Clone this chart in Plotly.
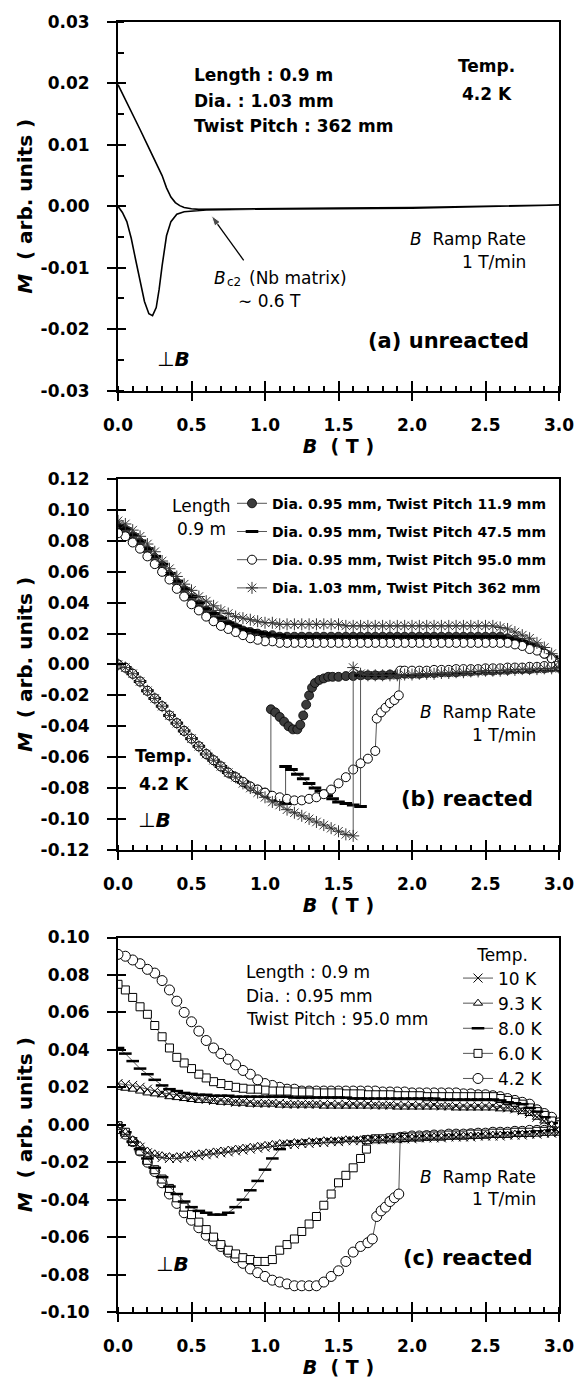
import plotly.graph_objects as go

# ---------------- data ----------------
B_GRID = [round(0.05 * i, 2) for i in range(61)]

# Panel (a) unreacted
A_B_UP = [0.0, 0.05, 0.10, 0.15, 0.20, 0.25, 0.30, 0.33, 0.36, 0.39, 0.42, 0.45, 0.50, 0.55, 0.7, 1.0, 1.5, 2.0, 2.5, 3.0]
A_M_UP = [0.0198, 0.0173, 0.0150, 0.0125, 0.0100, 0.0076, 0.0050, 0.0030, 0.0015, 0.0006, 0.0001, -0.0002,
          -0.0004, -0.0005, -0.0005, -0.0004, -0.0003, -0.0002, 0.0000, 0.0002]
A_B_LO = [0.0, 0.03, 0.06, 0.09, 0.12, 0.15, 0.18, 0.21, 0.235, 0.26, 0.28, 0.30, 0.33, 0.36, 0.40, 0.45,
          0.50, 0.60, 0.80, 1.0, 1.5, 2.0, 2.5, 3.0]
A_M_LO = [0.0, -0.0010, -0.0025, -0.0052, -0.0087, -0.0122, -0.0155, -0.0175, -0.0178, -0.0165, -0.0135,
          -0.0097, -0.0048, -0.0025, -0.0013, -0.0009, -0.0008, -0.0006, -0.0005, -0.0005, -0.0004,
          -0.0003, -0.0001, 0.0002]
# arrow pointing at Bc2 (tail -> head)
ARROW_B = [0.855, 0.635]
ARROW_M = [-0.0088, -0.0015]

# Panel (b) reacted, 4.2 K (upper branches on B_GRID)
B_NAMES = ["Dia. 0.95 mm, Twist Pitch 11.9 mm", "Dia. 0.95 mm, Twist Pitch 47.5 mm",
           "Dia. 0.95 mm, Twist Pitch 95.0 mm", "Dia. 1.03 mm, Twist Pitch 362 mm"]
M119_UP = [.089, .087, .083, .079, .074, .069, .064, .058, .053, .048,
           .043, .039, .035, .032, .029, .026, .024, .022, .021, .020,
           .019, .019, .018, .018, .018, .018, .018, .018, .018, .018,
           .018, .018, .018, .018, .018, .018, .018, .018, .018, .018,
           .018, .018, .018, .018, .018, .018, .018, .018, .018, .018,
           .018, .018, .018, .017, .016, .014, .012, .010, .007, .004,
           .001]
M475_UP = [.090, .088, .084, .080, .075, .070, .065, .059, .054, .049,
           .044, .040, .036, .033, .030, .027, .025, .023, .022, .021,
           .020, .019, .019, .018, .018, .018, .018, .018, .018, .018,
           .018, .018, .018, .018, .018, .018, .018, .018, .018, .018,
           .018, .018, .018, .018, .018, .018, .018, .018, .018, .018,
           .018, .018, .018, .017, .016, .015, .013, .011, .008, .005,
           .002]
M950_UP = [.085, .083, .079, .075, .070, .065, .060, .055, .049, .044,
           .039, .035, .031, .028, .025, .023, .021, .019, .017, .016,
           .015, .015, .014, .014, .014, .014, .014, .014, .014, .014,
           .014, .014, .014, .014, .014, .014, .014, .014, .014, .014,
           .014, .014, .014, .014, .014, .014, .014, .014, .014, .014,
           .014, .014, .014, .014, .013, .012, .010, .009, .007, .004,
           .001]
M362_UP = [.093, .091, .087, .083, .078, .073, .067, .062, .057, .052,
           .048, .044, .041, .038, .035, .033, .031, .030, .029, .028,
           .027, .027, .026, .026, .026, .026, .026, .026, .026, .026,
           .026, .025, .025, .025, .025, .025, .025, .025, .025, .025,
           .025, .025, .025, .025, .025, .025, .025, .025, .025, .025,
           .025, .025, .024, .023, .021, .019, .017, .014, .011, .007,
           .002]

B119_LO = [0, .05, .10, .15, .20, .25, .30, .35, .40, .45, .50, .55, .60, .65, .70, .75, .80, .85, .90, .95, 1.00, 1.04,
           1.04, 1.07, 1.10, 1.13, 1.16, 1.19, 1.22, 1.24, 1.26, 1.28, 1.30, 1.32, 1.34, 1.37, 1.40, 1.43, 1.46, 1.50,
           1.55, 1.60, 1.65, 1.70, 1.75, 1.80, 1.85, 1.90, 1.95, 2.00, 2.05, 2.10, 2.15, 2.20, 2.25, 2.30, 2.35, 2.40,
           2.45, 2.50, 2.55, 2.60, 2.65, 2.70, 2.75, 2.80, 2.85, 2.90, 2.95, 3.00]
M119_LO = [0, -.002, -.006, -.011, -.017, -.022, -.027, -.033, -.038, -.043, -.048, -.053, -.058, -.062, -.066, -.070,
           -.073, -.076, -.079, -.081, -.083, -.085,
           -.029, -.031, -.034, -.037, -.040, -.042, -.042, -.039, -.033, -.026, -.020, -.015, -.012, -.010, -.009,
           -.008, -.008, -.008,
           -.0075, -.0075, -.007, -.007, -.007, -.007, -.0065, -.0065, -.006, -.006, -.006, -.0055, -.0055, -.005,
           -.005, -.005, -.0045, -.0045, -.004, -.004, -.004, -.0035, -.0035, -.003, -.003, -.003, -.0025, -.0025,
           -.002, -.002]

B475_LO = [0, .05, .10, .15, .20, .25, .30, .35, .40, .45, .50, .55, .60, .65, .70, .75, .80, .85, .90, .95, 1.00,
           1.05, 1.10, 1.14, 1.14, 1.18, 1.22, 1.26, 1.30, 1.34, 1.38, 1.42, 1.46, 1.50, 1.55, 1.60, 1.65, 1.65,
           1.70, 1.75, 1.80, 1.85, 1.90, 1.95, 2.00, 2.05, 2.10, 2.15, 2.20, 2.25, 2.30, 2.35, 2.40, 2.45, 2.50,
           2.55, 2.60, 2.65, 2.70, 2.75, 2.80, 2.85, 2.90, 2.95, 3.00]
M475_LO = [0, -.002, -.006, -.011, -.017, -.022, -.027, -.033, -.038, -.043, -.048, -.053, -.058, -.062, -.066, -.070,
           -.073, -.076, -.079, -.081, -.083,
           -.086, -.088, -.090, -.066, -.068, -.071, -.074, -.077, -.080, -.082, -.085, -.087, -.089, -.090, -.091,
           -.092, -.007,
           -.007, -.007, -.007, -.0065, -.0065, -.006, -.006, -.006, -.0055, -.0055, -.005, -.005, -.005, -.0045,
           -.0045, -.004, -.004, -.004, -.0035, -.0035, -.003, -.003, -.003, -.0025, -.0025, -.002, -.002]

B950_LO = [0, .05, .10, .15, .20, .25, .30, .35, .40, .45, .50, .55, .60, .65, .70, .75, .80, .85, .90, .95,
           1.00, 1.05, 1.10, 1.15, 1.20, 1.25, 1.30, 1.35, 1.40, 1.45, 1.50, 1.55, 1.60, 1.65, 1.70, 1.75,
           1.76, 1.79, 1.82, 1.85, 1.88, 1.91, 1.92, 1.95,
           2.00, 2.05, 2.10, 2.15, 2.20, 2.25, 2.30, 2.35, 2.40, 2.45, 2.50, 2.55, 2.60, 2.65, 2.70, 2.75, 2.80,
           2.85, 2.90, 2.95, 3.00]
M950_LO = [0, -.002, -.006, -.011, -.017, -.022, -.027, -.033, -.038, -.043, -.048, -.053, -.058, -.062, -.066,
           -.070, -.073, -.076, -.079, -.081,
           -.083, -.085, -.086, -.087, -.088, -.088, -.087, -.086, -.084, -.081, -.077, -.073, -.068, -.064, -.061,
           -.056,
           -.035, -.031, -.028, -.025, -.023, -.020, -.004, -.004,
           -.004, -.004, -.004, -.0035, -.0035, -.0035, -.003, -.003, -.003, -.003, -.0025, -.0025, -.0025, -.002,
           -.002, -.002, -.0015, -.0015, -.001, -.001, -.001]

B362_LO = [0, .05, .10, .15, .20, .25, .30, .35, .40, .45, .50, .55, .60, .65, .70, .75, .80, .85, .90, .95,
           1.00, 1.05, 1.10, 1.15, 1.20, 1.25, 1.30, 1.35, 1.40, 1.45, 1.50, 1.55, 1.60, 1.60,
           1.65, 1.70, 1.75, 1.80, 1.85, 1.90, 1.95, 2.00, 2.05, 2.10, 2.15, 2.20, 2.25, 2.30, 2.35, 2.40, 2.45,
           2.50, 2.55, 2.60, 2.65, 2.70, 2.75, 2.80, 2.85, 2.90, 2.95, 3.00]
M362_LO = [0, -.002, -.006, -.011, -.017, -.022, -.027, -.033, -.038, -.043, -.048, -.053, -.058, -.062, -.066,
           -.070, -.073, -.077, -.080, -.083,
           -.086, -.089, -.091, -.094, -.096, -.098, -.100, -.102, -.104, -.106, -.108, -.110, -.111, -.002,
           -.006, -.007, -.007, -.007, -.007, -.007, -.0065, -.0065, -.006, -.006, -.006, -.0055, -.0055, -.005,
           -.005, -.0045, -.0045, -.004, -.004, -.004, -.0035, -.0035, -.003, -.003, -.003, -.0025, -.0025, -.002]

# Panel (c) reacted, 0.95 mm / 95.0 mm, various temperatures
C_NAMES = ["10 K", "9.3 K", "8.0 K", "6.0 K", "4.2 K"]
M42_UP = [.091, .090, .088, .086, .083, .081, .077, .072, .066, .060,
          .055, .050, .045, .041, .038, .035, .032, .029, .027, .024,
          .022, .021, .020, .019, .019, .018, .018, .018, .018, .018,
          .018, .018, .018, .018, .018, .018, .0175, .0175, .0175, .0175,
          .017, .017, .017, .017, .017, .017, .017, .0165, .0165, .016,
          .016, .0155, .015, .014, .013, .012, .011, .008, .006, .004,
          .001]
M60_UP = [.075, .072, .068, .063, .059, .053, .047, .041, .036, .033,
          .030, .027, .025, .023, .022, .021, .020, .0195, .019, .019,
          .0185, .018, .018, .018, .0175, .0175, .0175, .017, .017, .017,
          .017, .0165, .0165, .0165, .016, .016, .016, .016, .0155, .0155,
          .0155, .0155, .015, .015, .015, .015, .015, .015, .015, .015,
          .015, .015, .014, .013, .012, .011, .009, .007, .005, .002,
          .000]
M80_UP = [.041, .038, .034, .030, .027, .024, .021, .019, .018, .017,
          .0165, .016, .016, .0155, .0155, .0155, .015, .015, .015, .015,
          .015, .015, .015, .015, .0145, .0145, .0145, .0145, .0145, .0145,
          .0145, .0145, .014, .014, .014, .014, .014, .014, .014, .014,
          .014, .014, .014, .014, .0135, .0135, .0135, .0135, .0135, .0135,
          .0135, .0135, .013, .012, .0115, .011, .009, .007, .004, .001,
          -.002]
M93_UP = [.020, .0195, .019, .018, .017, .0165, .016, .015, .0145, .014,
          .0135, .013, .013, .0125, .012, .012, .0115, .0115, .011, .011,
          .011, .011, .0105, .0105, .0105, .0105, .0105, .0105, .010, .010,
          .010, .010, .010, .010, .010, .010, .010, .010, .0095, .0095,
          .0095, .0095, .0095, .0095, .0095, .0095, .009, .009, .009, .009,
          .009, .009, .0085, .0085, .008, .007, .006, .004, .002, .000,
          -.003]
M10_UP = [.022, .0215, .021, .020, .019, .018, .017, .0165, .016, .015,
          .0145, .014, .0135, .013, .013, .0125, .012, .012, .012, .0115,
          .0115, .0115, .0115, .011, .011, .011, .011, .011, .011, .011,
          .011, .011, .011, .011, .011, .0105, .0105, .0105, .0105, .0105,
          .0105, .0105, .0105, .0105, .010, .010, .010, .010, .010, .010,
          .010, .010, .0095, .009, .0085, .0075, .006, .004, .002, -.001,
          -.004]

M10_LO = [-.001, -.005, -.009, -.012, -.015, -.0165, -.0175, -.018, -.018, -.0175,
          -.017, -.0165, -.016, -.0155, -.015, -.0145, -.014, -.0135, -.013, -.0125,
          -.012, -.0115, -.011, -.0105, -.0105, -.010, -.010, -.0095, -.0095, -.009,
          -.009, -.0085, -.0085, -.0085, -.008, -.008, -.008, -.0075, -.0075, -.0075,
          -.0075, -.007, -.007, -.007, -.007, -.0065, -.0065, -.0065, -.0065, -.006,
          -.006, -.006, -.006, -.0055, -.0055, -.0055, -.005, -.005, -.0045, -.0045,
          -.004]
M93_LO = [-.0005, -.004, -.008, -.011, -.014, -.0155, -.0165, -.017, -.017, -.0165,
          -.016, -.0155, -.015, -.0145, -.014, -.0135, -.013, -.0125, -.012, -.0115,
          -.011, -.0105, -.010, -.010, -.0095, -.0095, -.009, -.009, -.0085, -.0085,
          -.0085, -.008, -.008, -.008, -.0075, -.0075, -.0075, -.0075, -.007, -.007,
          -.007, -.007, -.0065, -.0065, -.0065, -.0065, -.006, -.006, -.006, -.006,
          -.0055, -.0055, -.0055, -.0055, -.005, -.005, -.005, -.005, -.0045, -.0045,
          -.0045]
M80_LO = [-.0005, -.004, -.009, -.013, -.018, -.023, -.028, -.033, -.037, -.041,
          -.044, -.046, -.047, -.048, -.048, -.047, -.044, -.040, -.035, -.030,
          -.024, -.018, -.013, -.010, -.009, -.009, -.0085, -.0085, -.008, -.008,
          -.008, -.0075, -.0075, -.0075, -.007, -.007, -.007, -.007, -.0065, -.0065,
          -.0065, -.0065, -.006, -.006, -.006, -.006, -.0055, -.0055, -.0055, -.0055,
          -.005, -.005, -.005, -.0045, -.0045, -.004, -.004, -.0035, -.0035, -.003,
          -.003]
B60_LO = [0, .05, .10, .15, .20, .25, .30, .35, .40, .45, .50, .55, .60, .65, .70, .75, .80, .85, .90, .95,
          1.00, 1.05, 1.10, 1.15, 1.20, 1.25, 1.30, 1.35, 1.40, 1.45, 1.50, 1.55, 1.60, 1.65, 1.69, 1.69,
          1.75, 1.80, 1.85, 1.90, 1.95, 2.00, 2.05, 2.10, 2.15, 2.20, 2.25, 2.30, 2.35, 2.40, 2.45, 2.50, 2.55,
          2.60, 2.65, 2.70, 2.75, 2.80, 2.85, 2.90, 2.95, 3.00]
M60_LO = [-.0005, -.004, -.009, -.014, -.019, -.024, -.029, -.034, -.039, -.044,
          -.048, -.052, -.056, -.060, -.064, -.067, -.069, -.071, -.072, -.073,
          -.073, -.072, -.067, -.064, -.061, -.057, -.053, -.049, -.043, -.037,
          -.031, -.027, -.023, -.018, -.013, -.008,
          -.0075, -.0075, -.007, -.007, -.0068, -.0065, -.0065, -.006, -.006, -.006,
          -.0055, -.0055, -.0055, -.005, -.005, -.005, -.0045, -.0045, -.0045, -.004,
          -.004, -.004, -.0035, -.0035, -.003, -.003]
B42_LO = [0, .05, .10, .15, .20, .25, .30, .35, .40, .45, .50, .55, .60, .65, .70, .75, .80, .85, .90, .95,
          1.00, 1.05, 1.10, 1.15, 1.20, 1.25, 1.30, 1.35, 1.40, 1.45, 1.50, 1.55, 1.60, 1.65, 1.70,
          1.73, 1.76, 1.79, 1.82, 1.85, 1.88, 1.91, 1.92, 1.95,
          2.00, 2.05, 2.10, 2.15, 2.20, 2.25, 2.30, 2.35, 2.40, 2.45, 2.50, 2.55, 2.60, 2.65, 2.70, 2.75, 2.80,
          2.85, 2.90, 2.95, 3.00]
M42_LO = [-.002, -.005, -.009, -.014, -.020, -.025, -.031, -.037, -.042, -.047,
          -.051, -.055, -.059, -.062, -.065, -.068, -.071, -.074, -.077, -.079,
          -.081, -.083, -.084, -.085, -.086, -.086, -.086, -.086, -.084, -.081,
          -.078, -.073, -.068, -.065, -.063,
          -.061, -.049, -.046, -.044, -.041, -.039, -.037, -.0067, -.0065,
          -.006, -.006, -.0058, -.0055, -.0055, -.005, -.005, -.005, -.0048, -.0045,
          -.0045, -.004, -.004, -.004, -.0035, -.0035, -.003, -.003, -.003, -.0025,
          -.0023]

A_YTICKS = [-0.03, -0.02, -0.01, 0.0, 0.01, 0.02, 0.03]
A_YTEXT = ["-0.03", "-0.02", "-0.01", "0.00", "0.01", "0.02", "0.03"]
B_YTICKS = [-0.12, -0.10, -0.08, -0.06, -0.04, -0.02, 0.0, 0.02, 0.04, 0.06, 0.08, 0.10, 0.12]
B_YTEXT = ["-0.12", "-0.10", "-0.08", "-0.06", "-0.04", "-0.02", "0.00", "0.02", "0.04", "0.06", "0.08", "0.10", "0.12"]
C_YTICKS = [-0.10, -0.08, -0.06, -0.04, -0.02, 0.0, 0.02, 0.04, 0.06, 0.08, 0.10]
C_YTEXT = ["-0.10", "-0.08", "-0.06", "-0.04", "-0.02", "0.00", "0.02", "0.04", "0.06", "0.08", "0.10"]

# ---------------- figure ----------------
FONT = "DejaVu Sans"
fig = go.Figure()


def loop(b_lo, m_lo, b_up, m_up):
    n_lo = min(len(b_lo), len(m_lo))
    n_up = min(len(b_up), len(m_up))
    xs = list(b_lo[:n_lo]) + list(b_up[:n_up])[::-1]
    ys = list(m_lo[:n_lo]) + list(m_up[:n_up])[::-1]
    return xs, ys


# panel a
xa, ya = loop(A_B_LO, A_M_LO, A_B_UP, A_M_UP)
fig.add_trace(go.Scatter(x=xa, y=ya, mode="lines", line=dict(color="black", width=1.6),
                         xaxis="x", yaxis="y", showlegend=False, hoverinfo="skip"))
fig.add_trace(go.Scatter(x=ARROW_B, y=ARROW_M, mode="lines+markers",
                         line=dict(color="black", width=1.3),
                         marker=dict(symbol="arrow", angleref="previous", size=[0, 11], color="black"),
                         xaxis="x", yaxis="y", showlegend=False, hoverinfo="skip"))

LINE_C = "#555555"
b_styles = [
    dict(symbol="circle", size=9, color="#3c3c3c", line=dict(color="black", width=0.8)),
    dict(symbol="line-ew", size=9, color="black", line=dict(color="black", width=3)),
    dict(symbol="circle", size=9, color="white", line=dict(color="black", width=1)),
    dict(symbol="asterisk", size=10, color="#333333", line=dict(color="#333333", width=1)),
]
b_data = [(B119_LO, M119_LO, M119_UP), (B475_LO, M475_LO, M475_UP),
          (B950_LO, M950_LO, M950_UP), (B362_LO, M362_LO, M362_UP)]
for i, (bl, ml, mu) in enumerate(b_data):
    xs, ys = loop(bl, ml, B_GRID, mu)
    fig.add_trace(go.Scatter(x=xs, y=ys, mode="lines+markers", name=B_NAMES[i],
                             line=dict(color=LINE_C, width=1), marker=b_styles[i],
                             xaxis="x2", yaxis="y2", legend="legend", legendgroup="b%d" % i,
                             legendrank=i + 1))

c_styles = {
    "4.2 K": dict(symbol="circle", size=10, color="white", line=dict(color="black", width=1)),
    "6.0 K": dict(symbol="square", size=8, color="white", line=dict(color="black", width=1)),
    "8.0 K": dict(symbol="line-ew", size=9, color="black", line=dict(color="black", width=2.5)),
    "9.3 K": dict(symbol="triangle-up", size=8, color="white", line=dict(color="black", width=1)),
    "10 K": dict(symbol="x-thin", size=9, color="black", line=dict(color="black", width=1)),
}
c_data = {
    "4.2 K": (B42_LO, M42_LO, M42_UP),
    "6.0 K": (B60_LO, M60_LO, M60_UP),
    "8.0 K": (B_GRID, M80_LO, M80_UP),
    "9.3 K": (B_GRID, M93_LO, M93_UP),
    "10 K": (B_GRID, M10_LO, M10_UP),
}
for name in ["4.2 K", "6.0 K", "8.0 K", "9.3 K", "10 K"]:
    bl, ml, mu = c_data[name]
    xs, ys = loop(bl, ml, B_GRID, mu)
    fig.add_trace(go.Scatter(x=xs, y=ys, mode="lines+markers", name=name,
                             line=dict(color=LINE_C, width=1), marker=c_styles[name],
                             xaxis="x3", yaxis="y3", legend="legend2", legendgroup="c" + name,
                             legendrank=C_NAMES.index(name) + 1))

# dummy traces for overlay (crossing-tick) axes
for k in (4, 5, 6):
    fig.add_trace(go.Scatter(x=[None], y=[None], xaxis="x%d" % k, yaxis="y%d" % k,
                             showlegend=False, hoverinfo="skip"))

TICKFONT = dict(family=FONT, size=17, color="black", weight="bold")
XTITLEFONT = dict(family=FONT, size=19, color="black", weight="bold")
YTITLEFONT = dict(family=FONT, size=20, color="black", weight="bold")

domains = {1: [0.7143, 1.0], 2: [0.3583, 0.6456], 3: [0.0, 0.2903]}
yinfo = {1: (A_YTICKS, A_YTEXT, [-0.03, 0.03], 0.005),
         2: (B_YTICKS, B_YTEXT, [-0.12, 0.12], None),
         3: (C_YTICKS, C_YTEXT, [-0.10, 0.10], None)}

layout_axes = {}
for k in (1, 2, 3):
    sx = "" if k == 1 else str(k)
    tv, tt, yr, ymin = yinfo[k]
    layout_axes["xaxis" + sx] = dict(
        domain=[0, 1], anchor="y" + sx, range=[0, 3], tickmode="linear", tick0=0, dtick=0.5,
        tickformat=".1f", ticks="outside", ticklen=8, tickwidth=2, tickcolor="black",
        showline=True, linewidth=2, linecolor="black", mirror=True, showgrid=False, zeroline=False,
        tickfont=TICKFONT, ticklabelstandoff=10,
        minor=dict(tickmode="linear", tick0=0, dtick=0.1, ticks="inside", ticklen=5, tickwidth=1.5,
                   tickcolor="black", showgrid=False),
        title=dict(text="<i>B</i>  ( T )", font=XTITLEFONT, standoff=2))
    ydict = dict(
        domain=domains[k], anchor="x" + sx, range=yr, tickmode="array", tickvals=tv, ticktext=tt,
        ticks="outside", ticklen=9, tickwidth=2, tickcolor="black",
        showline=True, linewidth=2, linecolor="black", mirror=True, showgrid=False, zeroline=False,
        tickfont=TICKFONT, ticklabelstandoff=14,
        title=dict(text="<i>M</i>  ( arb. units )", font=YTITLEFONT, standoff=3))
    if ymin:
        ydict["minor"] = dict(tickmode="linear", tick0=0, dtick=ymin, ticks="inside", ticklen=6,
                              tickwidth=1.5, tickcolor="black", showgrid=False)
    layout_axes["yaxis" + sx] = ydict
    # overlay axes to make major ticks cross the axis line
    o = str(k + 3)
    layout_axes["xaxis" + o] = dict(
        overlaying="x" + sx, anchor="y" + o, range=[0, 3], tickmode="linear", tick0=0, dtick=0.5,
        ticks="inside", ticklen=10, tickwidth=2, tickcolor="black", showticklabels=False,
        showline=False, showgrid=False, zeroline=False)
    layout_axes["yaxis" + o] = dict(
        overlaying="y" + sx, anchor="x" + o, range=yr, tickmode="array", tickvals=tv,
        ticks="inside", ticklen=8, tickwidth=2, tickcolor="black", showticklabels=False,
        showline=False, showgrid=False, zeroline=False)

fig.update_layout(**layout_axes)


def ann(ax, x, y, text, size=17, bold=True, xanchor="center"):
    sx = "" if ax == 1 else str(ax)
    fig.add_annotation(xref="x" + sx, yref="y" + sx, x=x, y=y, text=text, showarrow=False,
                       xanchor=xanchor, yanchor="middle",
                       font=dict(family=FONT, size=size, color="black",
                                 weight="bold" if bold else "normal"))


# panel a texts
ann(1, 0.50, 0.0213, "Length : 0.9 m", xanchor="left")
ann(1, 0.50, 0.0171, "Dia. : 1.03 mm", xanchor="left")
ann(1, 0.50, 0.0131, "Twist Pitch : 362 mm", xanchor="left")
ann(1, 2.51, 0.0228, "Temp.")
ann(1, 2.51, 0.0183, "4.2 K")
ann(1, 2.79, -0.0053, "<i>B</i>  Ramp Rate", size=17, bold=False, xanchor="right")
ann(1, 2.79, -0.0090, "1 T/min", size=17, bold=False, xanchor="right")
ann(1, 0.64, -0.0116, "<i>B</i>", size=17, bold=False, xanchor="left")
ann(1, 0.725, -0.0124, "c2", size=12, bold=False, xanchor="left")
ann(1, 0.875, -0.0116, "(Nb matrix)", size=17, bold=False, xanchor="left")
ann(1, 1.03, -0.0154, "∼ 0.6 T", size=17, bold=False)
ann(1, 2.81, -0.0220, "(a) unreacted", size=21, bold=True, xanchor="right")
ann(1, 0.38, -0.0249, "⊥<b><i>B</i></b>", size=20, bold=False)

# panel b texts
ann(2, 0.566, 0.1028, "Length", size=17, bold=False)
ann(2, 0.566, 0.0879, "0.9 m", size=17, bold=False)
ann(2, 0.31, -0.059, "Temp.")
ann(2, 0.31, -0.0771, "4.2 K")
ann(2, 0.247, -0.1007, "⊥<b><i>B</i></b>", size=20, bold=False)
ann(2, 2.86, -0.0306, "<i>B</i>  Ramp Rate", size=17, bold=False, xanchor="right")
ann(2, 2.86, -0.0456, "1 T/min", size=17, bold=False, xanchor="right")
ann(2, 2.835, -0.0868, "(b) reacted", size=21, bold=True, xanchor="right")

# panel c texts
ann(3, 0.855, 0.0814, "Length : 0.9 m", size=17, bold=False, xanchor="left")
ann(3, 0.855, 0.0690, "Dia. : 0.95 mm", size=17, bold=False, xanchor="left")
ann(3, 0.855, 0.0567, "Twist Pitch : 95.0 mm", size=17, bold=False, xanchor="left")
ann(3, 2.86, -0.0278, "<i>B</i>  Ramp Rate", size=17, bold=False, xanchor="right")
ann(3, 2.86, -0.0398, "1 T/min", size=17, bold=False, xanchor="right")
ann(3, 2.835, -0.071, "(c) reacted", size=21, bold=True, xanchor="right")
ann(3, 0.373, -0.0745, "⊥<b><i>B</i></b>", size=20, bold=False)

fig.update_layout(
    width=587, height=1389, margin=dict(l=118, r=28, t=17, b=77),
    paper_bgcolor="white", plot_bgcolor="white",
    font=dict(family=FONT, color="black"),
    legend=dict(x=0.2585, y=0.639, xanchor="left", yanchor="top", bgcolor="rgba(0,0,0,0)",
                font=dict(family=FONT, size=14, color="black", weight="bold"),
                tracegroupgap=7, itemwidth=30),
    legend2=dict(x=0.771, y=0.2896, xanchor="left", yanchor="top", bgcolor="rgba(0,0,0,0)",
                 font=dict(family=FONT, size=17, color="black"),
                 title=dict(text="Temp.", side="top center", font=dict(family=FONT, size=17, color="black")),
                 tracegroupgap=0, itemwidth=30),
)

fig.write_html("out.html")
